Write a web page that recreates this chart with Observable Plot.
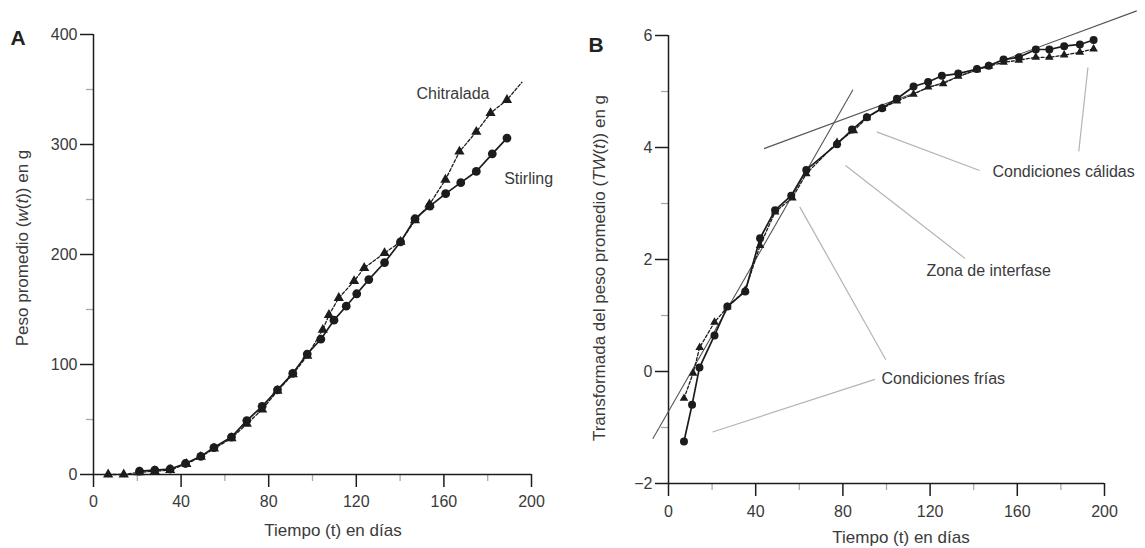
<!DOCTYPE html>
<html><head><meta charset="utf-8">
<script src="https://cdn.jsdelivr.net/npm/d3@7"></script>
<script src="https://cdn.jsdelivr.net/npm/@observablehq/plot@0.6"></script>
<style>
body{margin:0;background:#fff;}
#wrap{position:relative;width:1145px;height:548px;overflow:hidden;background:#fff;}
#wrap svg{position:absolute;top:0;overflow:visible;}
</style></head><body><div id="wrap"></div>
<script>
// ---------- Panel A data ----------
const stirlingT = [21, 28, 35, 42, 49, 55, 63, 70, 77, 84, 91, 97.6, 103.8, 109.8, 115.4, 120.2, 125.7, 132.9, 140.2, 146.8, 153.6, 160.8, 167.7, 174.8, 182.1, 188.8];
const stirlingW = [3, 4, 5, 10, 16.5, 24.5, 34, 49, 62, 77, 92, 109.5, 123, 140.3, 153, 164.3, 177.2, 192.7, 211.5, 232.5, 244, 255.3, 265.3, 275.5, 291.5, 305.8];
const chitraladaT = [6.7, 13.8, 21, 28, 35, 42.4, 49, 55, 63, 70, 77, 84, 91, 97.6, 104.7, 107.5, 112, 119, 123.6, 132.9, 140.2, 146.8, 153.4, 160.7, 167.1, 174.8, 181.3, 188.8];
const chitraladaW = [0, 0, 2, 3, 4, 9.6, 16, 23.5, 33, 46, 59, 76, 91, 108, 131.5, 145, 160.5, 175.8, 187.8, 201.3, 211.5, 231, 245.5, 268, 293.5, 311.5, 328.5, 340.5];
const chitraladaLineEndT = 195.6, chitraladaLineEndW = 356.6;
const labelsA = ["Chitralada", "Stirling"];
const labelsAT = [147.5, 187.5];
const labelsAW = [346, 269];

// ---------- Panel B data ----------
const circT = [7.1, 10.8, 14.2, 21.1, 27, 35.2, 42, 48.9, 56.3, 63.2, 77.3, 84.2, 91, 98, 104.8, 112.4, 119.1, 125.4, 132.9, 141.5, 146.9, 153.7, 160.7, 168.5, 174.7, 181.5, 188.7, 195];
const circY = [-1.25, -0.595, 0.07, 0.645, 1.16, 1.43, 2.38, 2.88, 3.14, 3.6, 4.06, 4.32, 4.54, 4.70, 4.87, 5.09, 5.17, 5.28, 5.32, 5.40, 5.46, 5.57, 5.61, 5.75, 5.75, 5.81, 5.84, 5.92];
const triT = [7.1, 11.3, 14.3, 21.1, 27, 35.2, 42, 48.9, 56.8, 63.2, 77.3, 85, 91, 98, 104.8, 112.4, 119.1, 126, 132.9, 141.5, 146.9, 153.7, 160.7, 168.5, 174.7, 181.5, 188.7, 195];
const triY = [-0.48, -0.03, 0.43, 0.88, 1.15, 1.45, 2.25, 2.85, 3.10, 3.53, 4.09, 4.30, 4.53, 4.70, 4.83, 4.95, 5.08, 5.14, 5.27, 5.39, 5.45, 5.52, 5.56, 5.61, 5.61, 5.65, 5.70, 5.76];
// fitted straight lines (cold, warm): start and end points
const fitT1 = [-7.2, 43.8], fitY1 = [-1.20, 3.98];
const fitT2 = [84.6, 214.8], fitY2 = [5.03, 6.44];
// annotation leader segments
const leadT1 = [94.7, 99.7, 136, 142.7, 188.2];
const leadY1 = [-0.14, 0.21, 2.02, 3.59, 3.93];
const leadT2 = [20.2, 60.2, 81.2, 95.5, 192.4];
const leadY2 = [-1.08, 2.94, 3.68, 4.28, 5.43];
const labelsB = ["Condiciones frías", "Zona de interfase", "Condiciones cálidas"];
const labelsBT = [97.7, 118.3, 148.6];
const labelsBY = [-0.14, 1.80, 3.56];

// ---------- ticks ----------
const xMajor = [0, 40, 80, 120, 160, 200];
const xMinor = [20, 60, 100, 140, 180];
const yMajorA = [0, 100, 200, 300, 400];
const yMinorA = [50, 150, 250, 350];
const yMajorB = [-2, 0, 2, 4, 6];
const yMinorB = [-1, 1, 3, 5];

const FONT = '"Liberation Sans", Arial, Helvetica, sans-serif';
const ink = "#1c1c1c", textc = "#3a3a3a", minorc = "#a8a8a8";

function axes(yMaj, yMin, xPad) {
  return [
    Plot.axisX({ticks: xMinor, tickSize: 7, tickFormat: () => "", stroke: minorc, strokeWidth: 1.3, label: null}),
    Plot.axisY({ticks: yMin, tickSize: 7, tickFormat: () => "", stroke: minorc, strokeWidth: 1.3, label: null}),
    Plot.axisX({ticks: xMajor, tickSize: 13, tickPadding: xPad, stroke: ink, strokeWidth: 1.5, fill: textc, label: null}),
    Plot.axisY({ticks: yMaj, tickSize: 13, tickPadding: 3, stroke: ink, strokeWidth: 1.5, fill: textc, label: null})
  ];
}

const wrap = document.getElementById("wrap");

// ---------- Panel A ----------
const stirling = stirlingT.map((t, i) => ({t, w: stirlingW[i]}));
const chitralada = chitraladaT.map((t, i) => ({t, w: chitraladaW[i]}));
const chitLine = chitralada.concat([{t: chitraladaLineEndT, w: chitraladaLineEndW}]);
const labA = labelsA.map((s, i) => ({s, t: labelsAT[i], w: labelsAW[i]}));

const A = Plot.plot({
  width: 560, height: 548,
  marginLeft: 93, marginRight: 29, marginTop: 34, marginBottom: 74,
  style: {fontFamily: FONT, fontSize: "16px", color: textc, background: "transparent"},
  x: {domain: [0, 200]},
  y: {domain: [0, 400]},
  marks: [
    ...axes(yMajorA, yMinorA, 8.3),
    Plot.ruleY([0], {x1: 0, x2: 200, stroke: ink, strokeWidth: 1.5}),
    Plot.ruleX([0], {y1: 0, y2: 400, stroke: ink, strokeWidth: 1.5}),
    Plot.line(chitLine, {x: "t", y: "w", stroke: ink, strokeWidth: 1.3, strokeDasharray: "3,2"}),
    Plot.line(stirling, {x: "t", y: "w", stroke: ink, strokeWidth: 1.7}),
    Plot.dot(chitralada, {x: "t", y: "w", symbol: "triangle", r: 3.8, fill: ink}),
    Plot.dot(stirling, {x: "t", y: "w", r: 4.4, fill: ink}),
    Plot.text(labA, {x: "t", y: "w", text: "s", textAnchor: "start", fontSize: 16, fill: textc})
  ]
});
A.style.left = "0px";
wrap.appendChild(A);

// ---------- Panel B ----------
const circ = circT.map((t, i) => ({t, y: circY[i]}));
const tri = triT.map((t, i) => ({t, y: triY[i]}));
const fits = fitT1.map((t, i) => ({t1: t, y1: fitY1[i], t2: fitT2[i], y2: fitY2[i]}));
const leads = leadT1.map((t, i) => ({t1: t, y1: leadY1[i], t2: leadT2[i], y2: leadY2[i]}));
const labB = labelsB.map((s, i) => ({s, t: labelsBT[i], y: labelsBY[i]}));

const B = Plot.plot({
  width: 585, height: 548,
  marginLeft: 108, marginRight: 41, marginTop: 35, marginBottom: 65,
  style: {fontFamily: FONT, fontSize: "16px", color: textc, background: "transparent"},
  x: {domain: [0, 200]},
  y: {domain: [-2, 6]},
  marks: [
    ...axes(yMajorB, yMinorB, 9.3),
    Plot.ruleY([-2], {x1: 0, x2: 200, stroke: ink, strokeWidth: 1.5}),
    Plot.ruleX([0], {y1: -2, y2: 6, stroke: ink, strokeWidth: 1.5}),
    Plot.link(leads, {x1: "t1", y1: "y1", x2: "t2", y2: "y2", stroke: "#b4b4b4", strokeWidth: 1.2}),
    Plot.link(fits, {x1: "t1", y1: "y1", x2: "t2", y2: "y2", stroke: "#555", strokeWidth: 1.1}),
    Plot.line(tri, {x: "t", y: "y", stroke: ink, strokeWidth: 1.3, strokeDasharray: "3,2"}),
    Plot.line(circ, {x: "t", y: "y", stroke: ink, strokeWidth: 1.7}),
    Plot.dot(tri, {x: "t", y: "y", symbol: "triangle", r: 3.2, fill: ink}),
    Plot.dot(circ, {x: "t", y: "y", r: 4, fill: ink}),
    Plot.text(labB, {x: "t", y: "y", text: "s", textAnchor: "start", fontSize: 16, fill: textc})
  ]
});
B.style.left = "560px";
wrap.appendChild(B);

// ---------- titles with italic parts ----------
function rich(svg, x, y, parts, opts) {
  const t = d3.select(svg).append("text")
    .attr("x", x).attr("y", y)
    .attr("text-anchor", "middle")
    .attr("font-family", FONT)
    .attr("font-size", opts.size || 17)
    .attr("font-weight", opts.weight || "normal")
    .attr("fill", opts.fill || textc);
  if (opts.rotate) t.attr("transform", `rotate(-90 ${x} ${y})`);
  parts.forEach(p => {
    t.append("tspan").attr("font-style", p[1] ? "italic" : "normal").text(p[0]);
  });
}
rich(A, 333, 536, [["Tiempo (t) en días", false]], {});
rich(A, 28, 248, [["Peso promedio (", false], ["w", true], ["(", false], ["t", true], [")) en g", false]], {rotate: true});
rich(A, 18, 45, [["A", false]], {size: 21, weight: "bold", fill: "#222"});
rich(B, 341, 543, [["Tiempo (t) en días", false]], {});
rich(B, 45, 268, [["Transformada del peso promedio (", false], ["TW", true], ["(", false], ["t", true], [")) en g", false]], {rotate: true});
rich(B, 36, 52, [["B", false]], {size: 21, weight: "bold", fill: "#222"});
</script>
</body></html>
